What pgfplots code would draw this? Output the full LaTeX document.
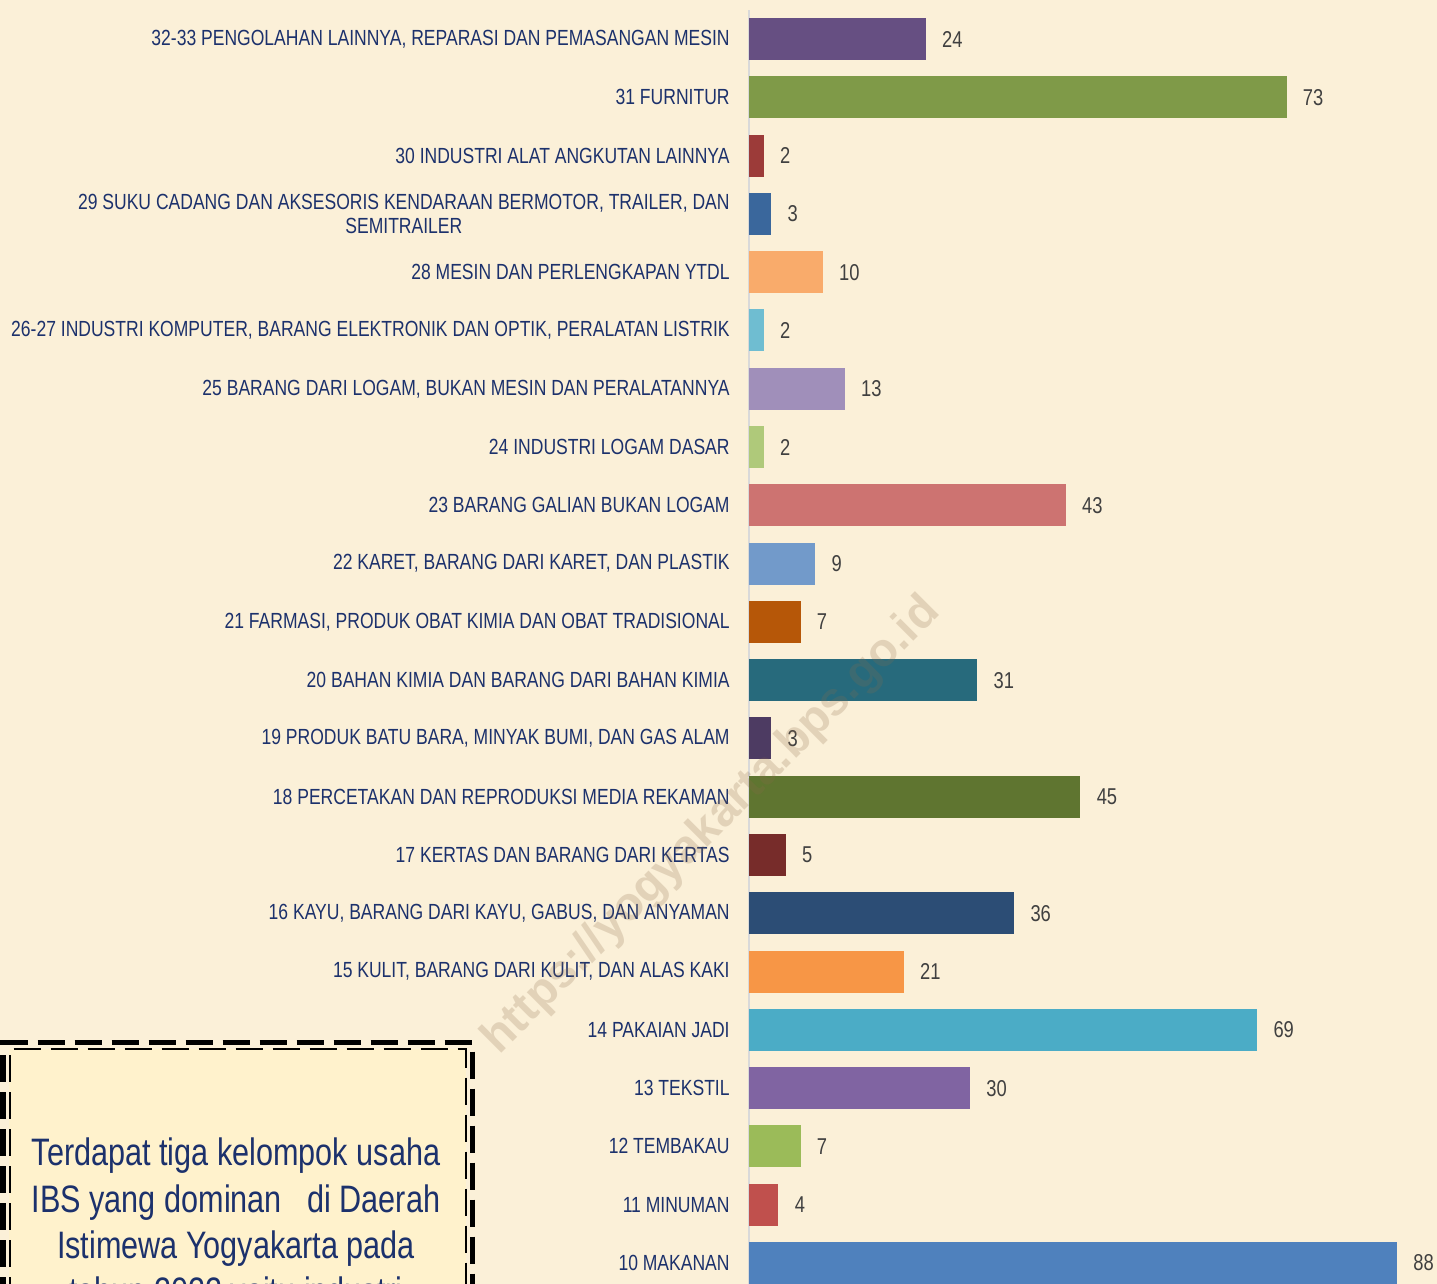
\documentclass[border=0pt]{standalone}
\usepackage{fontspec}
\setmainfont{Liberation Sans}[FakeStretch=0.80]
\newfontfamily\wmfont{Liberation Sans}
\usepackage{pgfplots}
\pgfplotsset{compat=1.18}
\definecolor{bgc}{HTML}{FBF0D8}
\definecolor{boxc}{HTML}{FFF2CC}
\definecolor{lblc}{HTML}{1C316C}
\definecolor{valc}{HTML}{404040}
\definecolor{wmc}{HTML}{8A6A4A}
\definecolor{cA}{HTML}{4F81BD}
\definecolor{cB}{HTML}{C0504D}
\definecolor{cC}{HTML}{9BBB59}
\definecolor{cD}{HTML}{8064A2}
\definecolor{cE}{HTML}{4BACC6}
\definecolor{cF}{HTML}{F79646}
\definecolor{cG}{HTML}{2C4D75}
\definecolor{cH}{HTML}{772C2A}
\definecolor{cI}{HTML}{5F7530}
\definecolor{cJ}{HTML}{4D3B62}
\definecolor{cK}{HTML}{276A7C}
\definecolor{cL}{HTML}{B65708}
\definecolor{cM}{HTML}{729ACA}
\definecolor{cN}{HTML}{CD7371}
\definecolor{cO}{HTML}{AFC97A}
\definecolor{cP}{HTML}{A08FBA}
\definecolor{cQ}{HTML}{6FBDD1}
\definecolor{cR}{HTML}{F9AB6B}
\definecolor{cS}{HTML}{3A679C}
\definecolor{cT}{HTML}{9C3B39}
\definecolor{cU}{HTML}{7F9A48}
\definecolor{cV}{HTML}{664F82}
\begin{document}
\begin{tikzpicture}[x=0.5bp,y=0.5bp]
\path[use as bounding box] (0,0) rectangle (1437,1284);
\clip (0,0) rectangle (1437,1284);
\fill[bgc] (0,0) rectangle (1437,1284);
\begin{axis}[
  at={(374.5bp,0bp)}, anchor=south west,
  scale only axis, width=344bp, height=637bp,
  xmin=0, xmax=93.43, ymin=-0.36, ymax=21.5,
  xbar, bar width=21bp, bar shift=0pt,
  axis x line=none, axis y line=left,
  y axis line style={-, draw=black!15, line width=1.2bp},
  major tick length=0pt,
  ytick={0,...,21},
  yticklabels={
    {10 MAKANAN},
    {11 MINUMAN},
    {12 TEMBAKAU},
    {13 TEKSTIL},
    {14 PAKAIAN JADI},
    {15 KULIT, BARANG DARI KULIT, DAN ALAS KAKI},
    {16 KAYU, BARANG DARI KAYU, GABUS, DAN ANYAMAN},
    {17 KERTAS DAN BARANG DARI KERTAS},
    {18 PERCETAKAN DAN REPRODUKSI MEDIA REKAMAN},
    {19 PRODUK BATU BARA, MINYAK BUMI, DAN GAS ALAM},
    {20 BAHAN KIMIA DAN BARANG DARI BAHAN KIMIA},
    {21 FARMASI, PRODUK OBAT KIMIA DAN OBAT TRADISIONAL},
    {22 KARET, BARANG DARI KARET, DAN PLASTIK},
    {23 BARANG GALIAN BUKAN LOGAM},
    {24 INDUSTRI LOGAM DASAR},
    {25 BARANG DARI LOGAM, BUKAN MESIN DAN PERALATANNYA},
    {26-27 INDUSTRI KOMPUTER, BARANG ELEKTRONIK DAN OPTIK, PERALATAN LISTRIK},
    {28 MESIN DAN PERLENGKAPAN YTDL},
    {29 SUKU CADANG DAN AKSESORIS KENDARAAN BERMOTOR, TRAILER, DAN\\SEMITRAILER},
    {30 INDUSTRI ALAT ANGKUTAN LAINNYA},
    {31 FURNITUR},
    {32-33 PENGOLAHAN LAINNYA, REPARASI DAN PEMASANGAN MESIN}},
  yticklabel style={font=\fontsize{11}{12}\selectfont, text=lblc, align=center, anchor=east, inner sep=0pt, xshift=-9.5bp},
  /pgf/number format/assume math mode=true,
  point meta=x,
  nodes near coords,
  nodes near coords style={font=\fontsize{11.5}{12}\selectfont, text=valc, anchor=west, inner sep=0pt, xshift=8bp},
  clip=false,
  every axis plot/.append style={draw=none},
]
\addplot[fill=cA] coordinates {(88,0)};
\addplot[fill=cB] coordinates {(4,1)};
\addplot[fill=cC] coordinates {(7,2)};
\addplot[fill=cD] coordinates {(30,3)};
\addplot[fill=cE] coordinates {(69,4)};
\addplot[fill=cF] coordinates {(21,5)};
\addplot[fill=cG] coordinates {(36,6)};
\addplot[fill=cH] coordinates {(5,7)};
\addplot[fill=cI] coordinates {(45,8)};
\addplot[fill=cJ] coordinates {(3,9)};
\addplot[fill=cK] coordinates {(31,10)};
\addplot[fill=cL] coordinates {(7,11)};
\addplot[fill=cM] coordinates {(9,12)};
\addplot[fill=cN] coordinates {(43,13)};
\addplot[fill=cO] coordinates {(2,14)};
\addplot[fill=cP] coordinates {(13,15)};
\addplot[fill=cQ] coordinates {(2,16)};
\addplot[fill=cR] coordinates {(10,17)};
\addplot[fill=cS] coordinates {(3,18)};
\addplot[fill=cT] coordinates {(2,19)};
\addplot[fill=cU] coordinates {(73,20)};
\addplot[fill=cV] coordinates {(24,21)};
\end{axis}
% text box
\fill[boxc] (9,-20) rectangle (466,235);
\draw[line width=2.5bp, dash pattern=on 13.5bp off 5bp] (3,-20) -- (3,241.5) -- (472.5,241.5) -- (472.5,-20);
\draw[line width=1bp, dash pattern=on 13.5bp off 5bp] (9.5,-20) -- (9.5,235) -- (466,235) -- (466,-20);
\begin{scope}[every node/.style={font=\fontsize{19.2}{22}\selectfont, text=lblc, anchor=base}]
\node at (236,118) {Terdapat tiga kelompok usaha};
\node at (236,71) {IBS yang dominan \ \ di Daerah};
\node at (236,25) {Istimewa Yogyakarta pada};
\node at (236,-21) {tahun 2022 yaitu industri};
\end{scope}
% watermark
\node[rotate=45, font=\wmfont\bfseries\fontsize{23.5}{26}\selectfont, text=wmc, opacity=0.22] at (712,458) {https://yogyakarta.bps.go.id};
\end{tikzpicture}
\end{document}
